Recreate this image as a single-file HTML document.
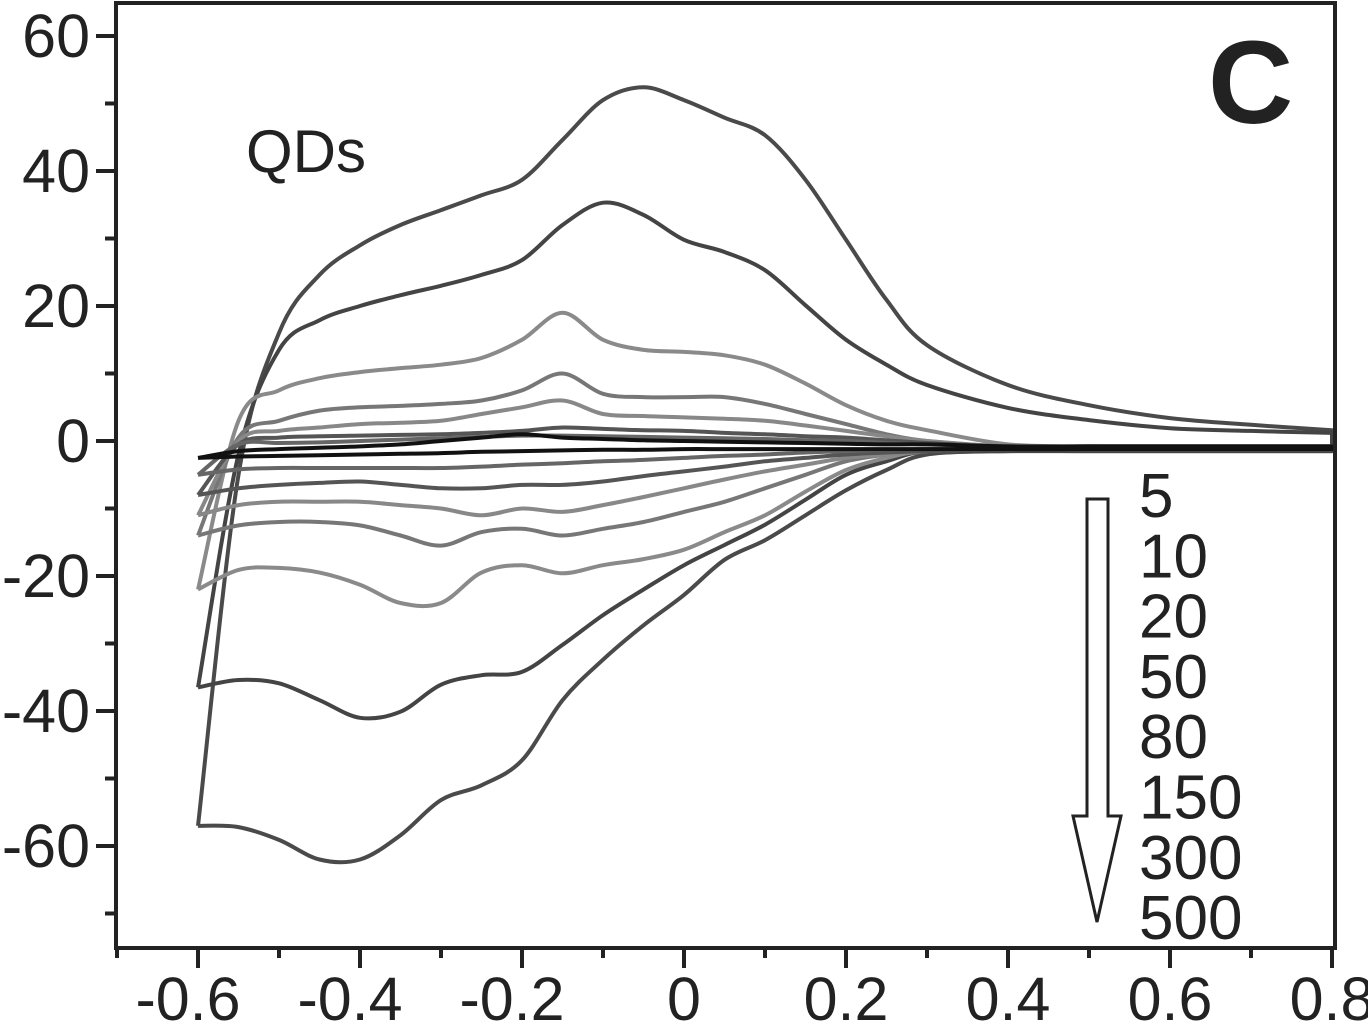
<!DOCTYPE html>
<html><head><meta charset="utf-8"><style>
html,body{margin:0;padding:0;background:#fff;}
svg{display:block;font-family:"Liberation Sans",Arial,sans-serif;}
</style></head><body>
<svg id="chart" width="1368" height="1023" viewBox="0 0 1368 1023" xmlns="http://www.w3.org/2000/svg">
<g id="curves"></g>
<g id="axes"></g>
<text x="246" y="172" font-size="60" fill="#222">QDs</text>
<text x="1208" y="123" font-size="118" font-weight="bold" fill="#222">C</text>
<path d="M1087,499 L1108,499 L1108,816 L1121,816 L1097,922 L1073,816 L1087,816 Z" fill="#fff" stroke="#222" stroke-width="3"/>
<g id="legend"></g>
</svg>
<script>
const potentials=[-0.6,-0.55,-0.5,-0.45,-0.4,-0.35,-0.3,-0.25,-0.2,-0.15,-0.1,-0.05,0,0.05,0.1,0.15,0.2,0.25,0.3,0.4,0.5,0.6,0.7,0.8];
const scanRates=[5,10,20,50,80,150,300,500];
const up5=[-2.5,-1.5,-1.2,-1,-0.8,-0.5,0,0.5,1,0.5,0.3,0.1,0,-0.1,-0.2,-0.3,-0.4,-0.5,-0.5,-0.8,-0.8,-0.8,-0.8,-0.8];
const low5=[-2.5,-2.3,-2.2,-2.1,-2,-1.9,-1.8,-1.6,-1.5,-1.4,-1.3,-1.3,-1.2,-1.2,-1.2,-1.2,-1.2,-1.2,-1.2,-1.2,-1.2,-1.2,-1.2,-1.2];
const up10=[-5,-0.5,-0.3,-0.2,0,0.2,0.4,0.6,0.8,0.8,0.7,0.6,0.5,0.4,0.3,0.1,0,-0.3,-0.5,-0.8,-0.8,-0.8,-0.8,-0.8];
const low10=[-5,-4.2,-4,-4,-4,-4,-4,-3.8,-3.5,-3.3,-3,-2.8,-2.5,-2.2,-2,-1.7,-1.5,-1.3,-1.2,-1.2,-1.2,-1.2,-1.2,-1.2];
const up20=[-8,-0.5,0.5,0.7,0.8,0.9,1,1.2,1.5,2,1.8,1.6,1.5,1.2,1,0.7,0.5,0.1,-0.3,-0.8,-0.8,-0.8,-0.8,-0.8];
const low20=[-8,-7,-6.5,-6.2,-6,-6.5,-7,-7,-6.5,-6.5,-6,-5.2,-4.5,-3.8,-3,-2.5,-2,-1.7,-1.5,-1.2,-1.2,-1.2,-1.2,-1.2];
const up50=[-11,0,1.5,2,2.5,2.7,3,4,5,6,4,3.7,3.5,3.3,3,2.3,1.5,0.7,0,-0.8,-0.8,-0.8,-0.8,-0.8];
const low50=[-11,-9.5,-9,-9,-9,-9.5,-10,-11,-10,-10.5,-9.5,-8.3,-7,-5.7,-4.5,-3.5,-2.5,-2,-1.5,-1.2,-1.2,-1.2,-1.2,-1.2];
const up80=[-14,0.5,3,4.5,5,5.2,5.5,6,7.5,10,7,6.5,6.5,6.5,5.5,4,2.5,1,0,-0.8,-0.8,-0.8,-0.8,-0.8];
const low80=[-14,-12.5,-12,-12,-12.5,-14,-15.5,-13.5,-13,-14,-13,-12,-10.5,-9,-7,-5,-3,-2,-1.5,-1.2,-1.2,-1.2,-1.2,-1.2];
const up150=[-22,3,7.5,9.3,10.2,10.8,11.3,12.3,15,19,15,13.5,13.2,12.7,11.3,8.5,5.3,3,1.6,-0.5,-0.8,-0.9,-1,-1];
const low150=[-22,-19.1,-18.8,-19.5,-21.3,-24,-24,-19.5,-18.4,-19.6,-18.4,-17.5,-16.1,-13.5,-11,-7.5,-4.3,-2.5,-1.5,-1.2,-1.2,-1.2,-1.2,-1.2];
const up300=[-36.5,-2,13.5,17.9,20,21.6,23,24.6,26.8,32,35.3,33.5,29.8,28,25.3,20.1,15,11.3,8.3,4.9,3.1,1.9,1.5,1.2];
const low300=[-36.5,-35.4,-35.9,-38.4,-41,-40.1,-36.1,-34.7,-34.2,-30.2,-25.8,-22,-18.4,-15.4,-12.4,-8.7,-5,-3,-1.5,-1.5,-1.5,-1.5,-1.5,-1.5];
const up500=[-57,-5,16,24.6,29,32,34.2,36.4,38.7,44.6,50.5,52.4,50.5,47.9,45.3,38.7,29.8,20.9,14.2,8.3,5.3,3.4,2.4,1.6];
const low500=[-57,-57.2,-59.1,-62,-62,-58.4,-53.2,-51,-47.3,-38.4,-32.4,-27.3,-22.8,-17.6,-14.7,-11,-7.3,-4.3,-2,-1.5,-1.5,-1.5,-1.5,-1.5];
const xTicks=[-0.6,-0.4,-0.2,0,0.2,0.4,0.6,0.8];
const xTickLabels=["-0.6","-0.4","-0.2","0","0.2","0.4","0.6","0.8"];
const yTicks=[60,40,20,0,-20,-40,-60];
const yTickLabels=["60","40","20","0","-20","-40","-60"];

const NS="http://www.w3.org/2000/svg";
const X=v=>198+(v+0.6)*810;
const Y=v=>441-v*6.75;
const ups=[up5,up10,up20,up50,up80,up150,up300,up500];
const lows=[low5,low10,low20,low50,low80,low150,low300,low500];
const colors=["#111","#666","#555","#888","#777","#8a8a8a","#444","#4a4a4a"];

function smooth(pts){
  let d="M"+pts[0][0].toFixed(1)+","+pts[0][1].toFixed(1);
  for(let i=0;i<pts.length-1;i++){
    const p0=pts[Math.max(0,i-1)],p1=pts[i],p2=pts[i+1],p3=pts[Math.min(pts.length-1,i+2)];
    const c1=[p1[0]+(p2[0]-p0[0])/6,p1[1]+(p2[1]-p0[1])/6];
    const c2=[p2[0]-(p3[0]-p1[0])/6,p2[1]-(p3[1]-p1[1])/6];
    d+=" C"+c1.map(v=>v.toFixed(1))+" "+c2.map(v=>v.toFixed(1))+" "+p2[0].toFixed(1)+","+p2[1].toFixed(1);
  }
  return d;
}
const cg=document.getElementById("curves");
for(let k=scanRates.length-1;k>=0;k--){
  const upPts=potentials.map((p,i)=>[X(p),Y(ups[k][i])]);
  const lowPts=potentials.map((p,i)=>[X(p),Y(lows[k][i])]).reverse();
  const path=document.createElementNS(NS,"path");
  path.setAttribute("d",smooth(upPts)+" "+smooth(lowPts).replace(/^M/,"L"));
  path.setAttribute("fill","none");
  path.setAttribute("stroke",colors[k]);
  path.setAttribute("stroke-width","4");
  path.setAttribute("stroke-linejoin","round");
  
  
  cg.appendChild(path);
}
const ag=document.getElementById("axes");
function line(x1,y1,x2,y2,name){
  const l=document.createElementNS(NS,"line");
  l.setAttribute("x1",x1);l.setAttribute("y1",y1);l.setAttribute("x2",x2);l.setAttribute("y2",y2);
  l.setAttribute("stroke","#222");l.setAttribute("stroke-width","4");
  
  
  ag.appendChild(l);
}
function text(x,y,s,anchor,name){
  const t=document.createElementNS(NS,"text");
  t.setAttribute("x",x);t.setAttribute("y",y);t.setAttribute("font-size","61");
  t.setAttribute("fill","#222");t.setAttribute("text-anchor",anchor);
  t.textContent=s;
  
  
  ag.appendChild(t);
}
const rect=document.createElementNS(NS,"rect");
rect.setAttribute("x",116);rect.setAttribute("y",3);rect.setAttribute("width",1219);rect.setAttribute("height",945);
rect.setAttribute("fill","none");rect.setAttribute("stroke","#222");rect.setAttribute("stroke-width","4");


ag.appendChild(rect);
for(let v=-0.7;v<=0.81;v+=0.1){
  const major=Math.abs(Math.round(v*10)%2)===0;
  line(X(v),948,X(v),major?968:958,"x-tick");
}
xTicks.forEach((v,i)=>text(X(v)-(xTickLabels[i][0]==="-"?10:0),1020,xTickLabels[i],"middle","x-tick-label"));
for(let v=-70;v<=60;v+=10){
  const major=v%20===0;
  line(major?96:105,Y(v),116,Y(v),"y-tick");
}
yTicks.forEach((v,i)=>text(90,Y(v)+21,yTickLabels[i],"end","y-tick-label"));
const lg=document.getElementById("legend");
scanRates.forEach((r,i)=>{
  const t=document.createElementNS(NS,"text");
  t.setAttribute("x",1139);t.setAttribute("y",517+i*60.3);t.setAttribute("font-size","62");t.setAttribute("fill","#222");
  t.textContent=r;
  
  
  lg.appendChild(t);
});
</script>
</body></html>
